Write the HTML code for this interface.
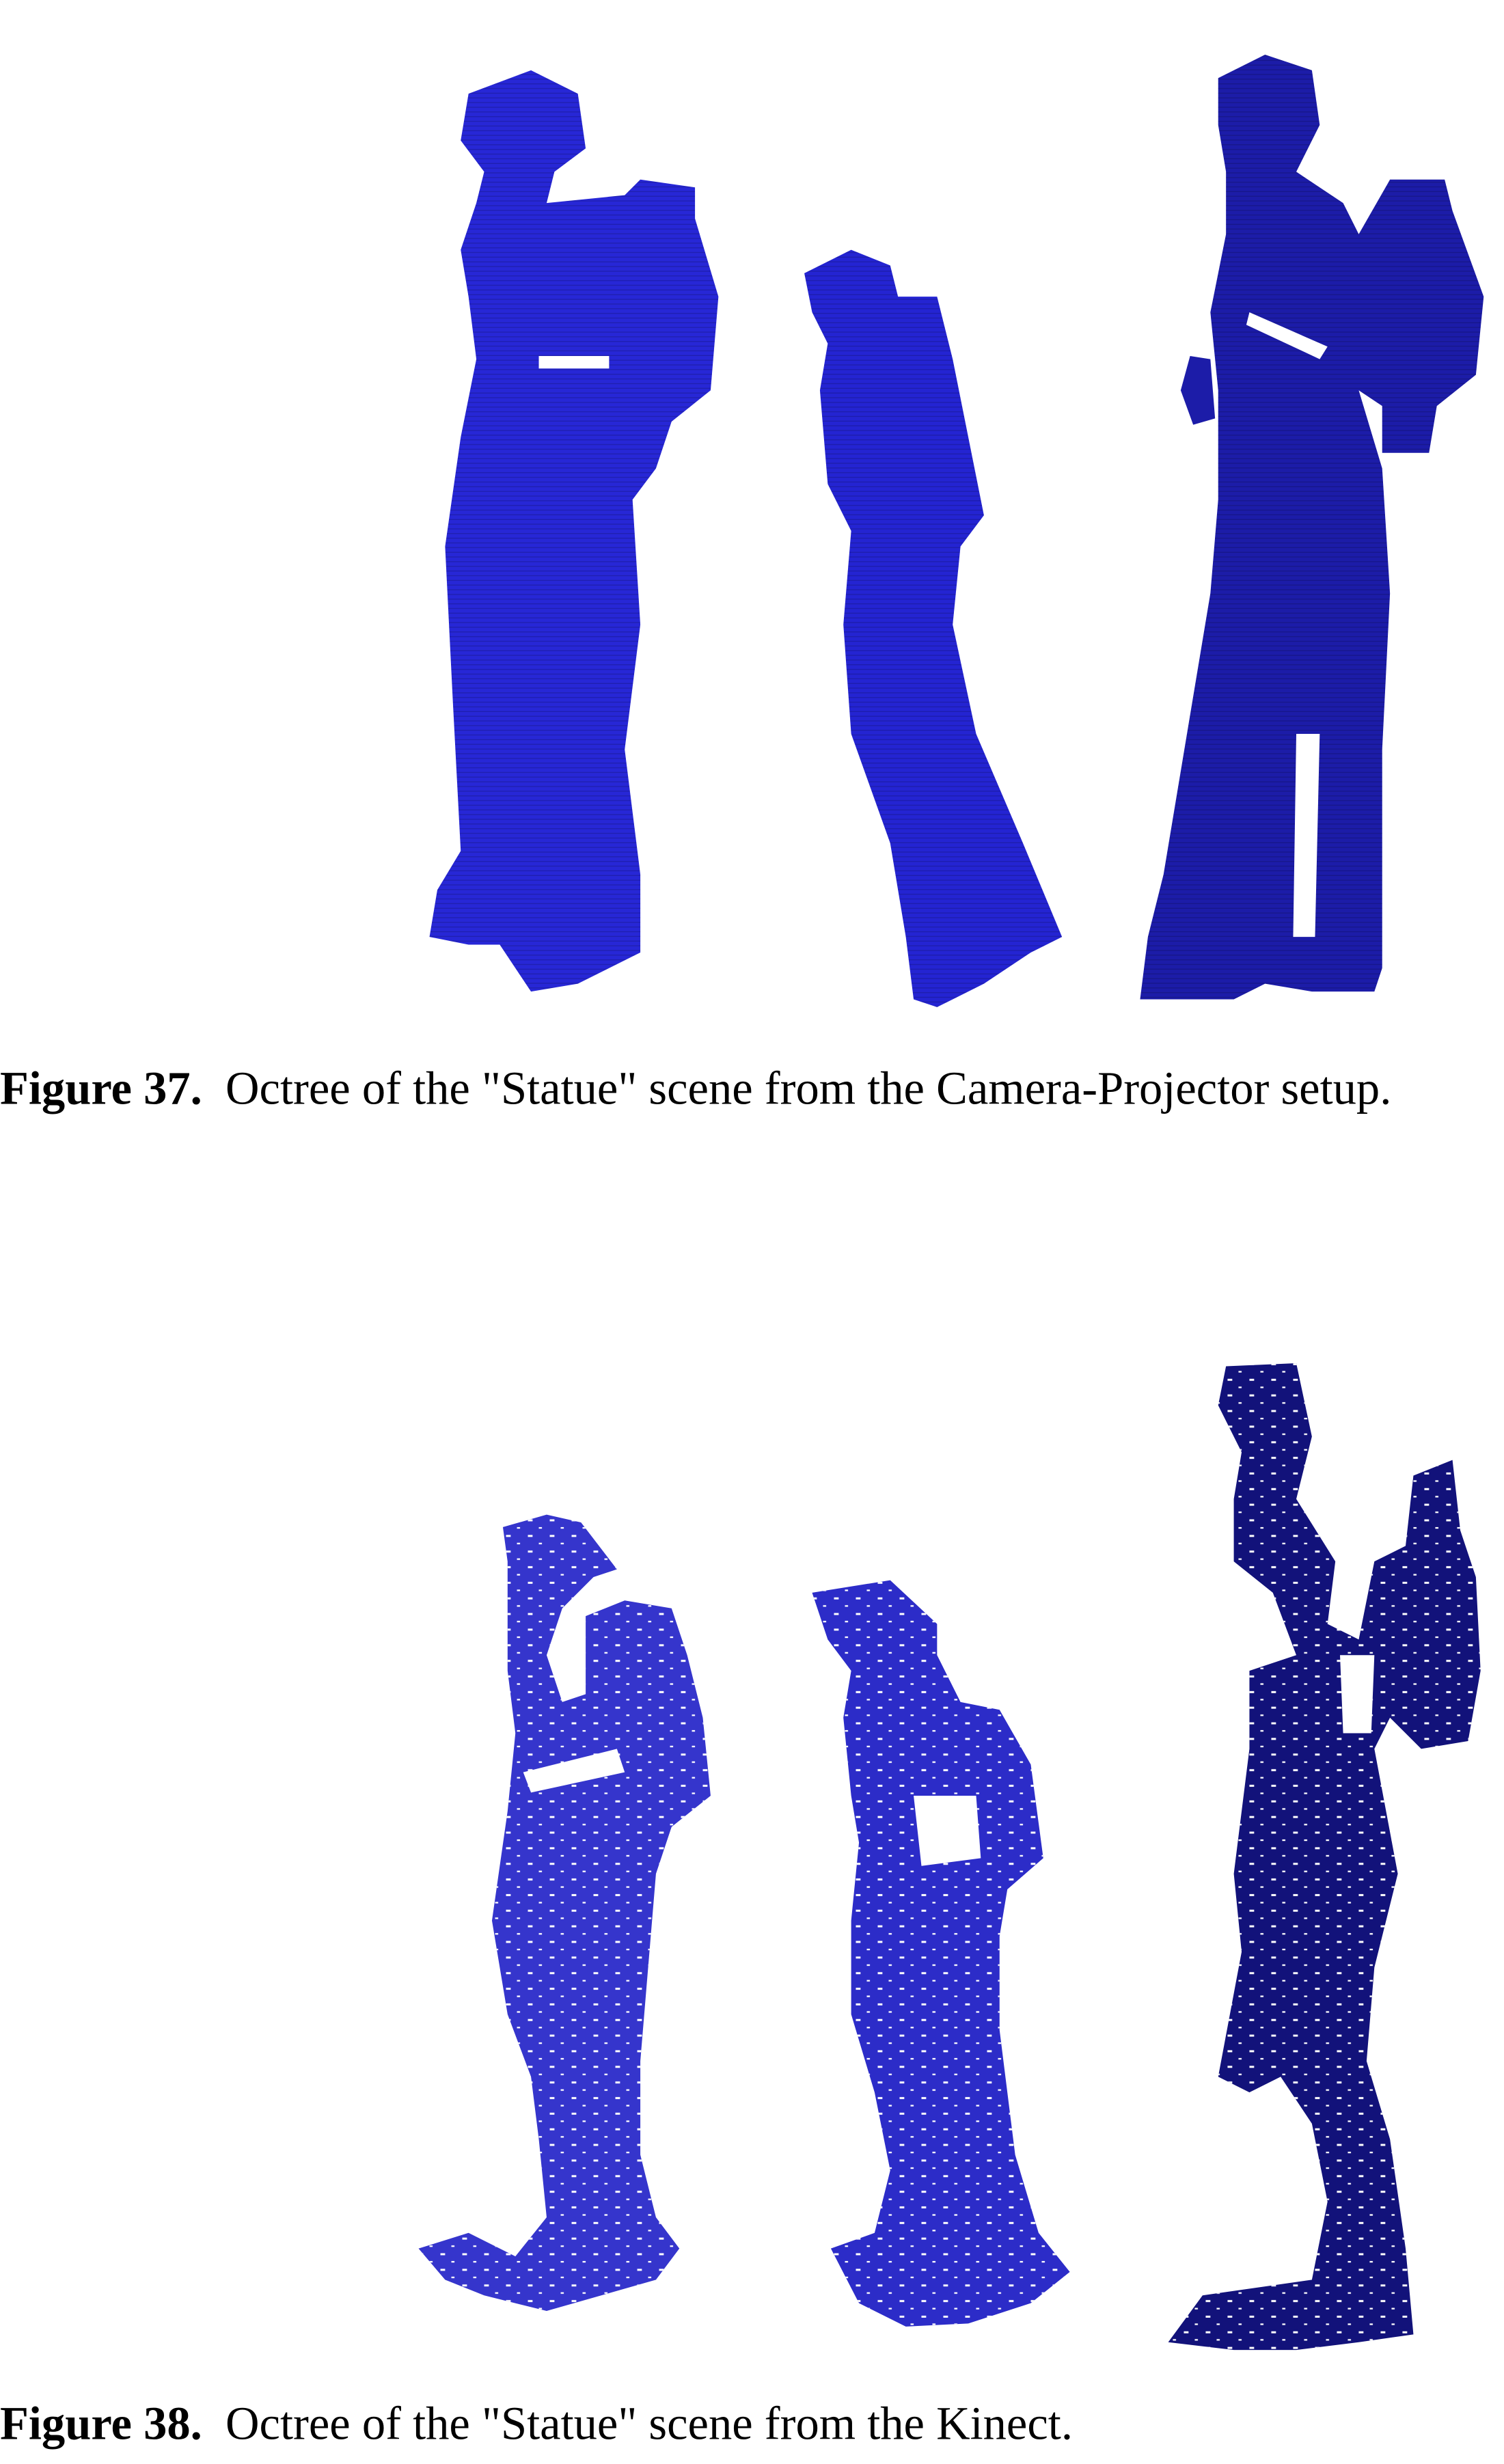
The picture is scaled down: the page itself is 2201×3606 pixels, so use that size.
<!DOCTYPE html>
<html><head><meta charset="utf-8"><style>
html,body{margin:0;padding:0;background:#fff;width:2201px;height:3606px;overflow:hidden}
svg{display:block}
text{font-family:"Liberation Serif",serif;fill:#000;white-space:pre}
</style></head><body>
<svg width="2201" height="3606" viewBox="0 0 963 1578" preserveAspectRatio="none">
<defs>
<pattern id="vox" width="4" height="3" patternUnits="userSpaceOnUse"><rect x="0" y="2.4" width="4" height="0.6" fill="#000" opacity="0.18"/></pattern>
<pattern id="holes" width="14" height="10" patternUnits="userSpaceOnUse"><rect x="2" y="3" width="3" height="1.3" fill="#fff"/><rect x="9" y="8" width="2" height="1" fill="#fff"/></pattern>
</defs>
<g>
<g>
<polygon fill="#2727d6" points="300,60 340,45 370,60 375,95 355,110 350,130 400,125 410,115 445,120 445,140 460,190 455,250 430,270 420,300 405,320 410,400 400,480 410,560 410,610 370,630 340,635 320,605 300,605 275,600 280,570 295,545 290,450 285,350 295,280 305,230 300,190 295,160 305,130 310,110 295,90"/>
<polygon fill="url(#vox)" points="300,60 340,45 370,60 375,95 355,110 350,130 400,125 410,115 445,120 445,140 460,190 455,250 430,270 420,300 405,320 410,400 400,480 410,560 410,610 370,630 340,635 320,605 300,605 275,600 280,570 295,545 290,450 285,350 295,280 305,230 300,190 295,160 305,130 310,110 295,90"/>
<rect x="345" y="228" width="45" height="8" fill="#fff"/>
</g>
<g>
<polygon fill="#2424d2" points="515,175 545,160 570,170 575,190 600,190 610,230 620,280 630,330 615,350 610,400 625,470 655,540 680,600 660,610 630,630 600,645 585,640 580,600 570,540 545,470 540,400 545,340 530,310 525,250 530,220 520,200"/>
<polygon fill="url(#vox)" points="515,175 545,160 570,170 575,190 600,190 610,230 620,280 630,330 615,350 610,400 625,470 655,540 680,600 660,610 630,630 600,645 585,640 580,600 570,540 545,470 540,400 545,340 530,310 525,250 530,220 520,200"/>
</g>
<g>
<polygon fill="#1c1ca8" points="780,50 810,35 840,45 845,80 830,110 860,130 870,150 890,115 925,115 930,135 950,190 945,240 920,260 915,290 885,290 885,260 870,250 885,300 890,380 885,480 885,620 880,635 840,635 810,630 790,640 760,640 730,640 735,600 745,560 755,500 765,440 775,380 780,320 780,250 775,200 785,150 785,110 780,80"/>
<polygon fill="url(#vox)" points="780,50 810,35 840,45 845,80 830,110 860,130 870,150 890,115 925,115 930,135 950,190 945,240 920,260 915,290 885,290 885,260 870,250 885,300 890,380 885,480 885,620 880,635 840,635 810,630 790,640 760,640 730,640 735,600 745,560 755,500 765,440 775,380 780,320 780,250 775,200 785,150 785,110 780,80"/>
<polygon fill="#1c1ca8" points="762,228 775,230 778,268 764,272 756,250"/>
<polygon fill="#fff" points="800,200 850,222 845,230 798,208"/>
<polygon fill="#fff" points="830,470 845,470 842,600 828,600"/>
</g>
</g>
<text x="0" y="707" font-size="30" xml:space="preserve"><tspan font-weight="bold">Figure 37.</tspan>  Octree of the "Statue" scene from the Camera-Projector setup.</text>
<g>
<g>
<polygon fill="#3535cc" points="322,978 350,970 372,975 395,1005 380,1010 360,1030 350,1060 360,1090 375,1085 375,1035 400,1025 430,1030 440,1060 450,1100 455,1150 430,1170 420,1200 415,1260 410,1320 410,1380 420,1420 435,1440 420,1460 385,1470 350,1480 310,1470 285,1460 268,1440 300,1430 330,1445 350,1420 345,1370 340,1330 325,1290 315,1230 325,1160 330,1110 325,1070 325,1030 325,1000"/>
<polygon fill="url(#holes)" points="322,978 350,970 372,975 395,1005 380,1010 360,1030 350,1060 360,1090 375,1085 375,1035 400,1025 430,1030 440,1060 450,1100 455,1150 430,1170 420,1200 415,1260 410,1320 410,1380 420,1420 435,1440 420,1460 385,1470 350,1480 310,1470 285,1460 268,1440 300,1430 330,1445 350,1420 345,1370 340,1330 325,1290 315,1230 325,1160 330,1110 325,1070 325,1030 325,1000"/>
<polygon fill="#fff" points="335,1135 395,1120 400,1135 340,1148"/>
</g>
<g>
<polygon fill="#2c2cc8" points="520,1020 570,1012 600,1040 600,1060 615,1090 640,1095 660,1130 668,1190 645,1210 640,1240 640,1300 650,1380 665,1430 685,1455 660,1475 620,1488 580,1490 550,1475 532,1440 560,1430 570,1390 560,1340 545,1290 545,1230 550,1180 545,1150 540,1100 545,1070 530,1050"/>
<polygon fill="url(#holes)" points="520,1020 570,1012 600,1040 600,1060 615,1090 640,1095 660,1130 668,1190 645,1210 640,1240 640,1300 650,1380 665,1430 685,1455 660,1475 620,1488 580,1490 550,1475 532,1440 560,1430 570,1390 560,1340 545,1290 545,1230 550,1180 545,1150 540,1100 545,1070 530,1050"/>
<polygon fill="#fff" points="585,1150 625,1150 628,1190 590,1195"/>
</g>
<g>
<polygon fill="#12127a" points="785,875 830,873 840,920 830,960 855,1000 850,1040 870,1050 880,1000 900,990 905,945 930,935 935,980 945,1010 948,1070 940,1115 910,1120 890,1100 880,1120 895,1200 880,1260 875,1320 890,1370 900,1440 905,1495 870,1500 830,1505 790,1505 748,1500 770,1470 840,1460 850,1410 840,1360 820,1330 800,1340 780,1330 795,1250 790,1200 800,1120 800,1070 830,1060 815,1020 790,1000 790,960 795,930 780,900"/>
<polygon fill="url(#holes)" points="785,875 830,873 840,920 830,960 855,1000 850,1040 870,1050 880,1000 900,990 905,945 930,935 935,980 945,1010 948,1070 940,1115 910,1120 890,1100 880,1120 895,1200 880,1260 875,1320 890,1370 900,1440 905,1495 870,1500 830,1505 790,1505 748,1500 770,1470 840,1460 850,1410 840,1360 820,1330 800,1340 780,1330 795,1250 790,1200 800,1120 800,1070 830,1060 815,1020 790,1000 790,960 795,930 780,900"/>
<polygon fill="#fff" points="858,1060 880,1060 878,1110 860,1110"/>
</g>
</g>
<text x="0" y="1562" font-size="30" xml:space="preserve"><tspan font-weight="bold">Figure 38.</tspan>  Octree of the "Statue" scene from the Kinect.</text>
</svg>
</body></html>
